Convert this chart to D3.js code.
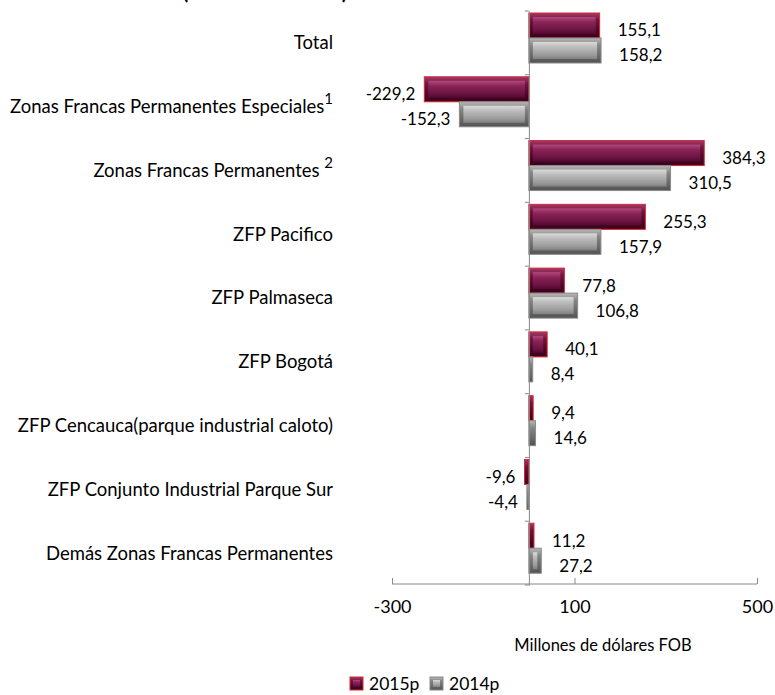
<!DOCTYPE html>
<html>
<head>
<meta charset="utf-8">
<script src="https://cdn.jsdelivr.net/npm/d3@7"></script>
<style>
  body { margin: 0; background: #fff; }
  text { font-family: Lato, "Open Sans", sans-serif; fill: #000; }
</style>
</head>
<body>
<div id="chart"></div>
<script>
let svgWidth = 775
let svgHeight = 695

// data
let categories = [
    "Total",
    "Zonas Francas Permanentes Especiales",
    "Zonas Francas Permanentes ",
    "ZFP Pacifico",
    "ZFP Palmaseca",
    "ZFP Bogotá",
    "ZFP Cencauca(parque industrial caloto)",
    "ZFP Conjunto Industrial Parque Sur",
    "Demás Zonas Francas Permanentes"
]
let notes = ["", "1", "2", "", "", "", "", "", ""]
let seriesNames = ["2015p", "2014p"]
let values2015 = [155.1, -229.2, 384.3, 255.3, 77.8, 40.1, 9.4, -9.6, 11.2]
let values2014 = [158.2, -152.3, 310.5, 157.9, 106.8, 8.4, 14.6, -4.4, 27.2]
let xTicks = [-300, 100, 500]
let axisTitle = "Millones de dólares FOB"

let locale = d3.formatLocale({ decimal: ",", thousands: ".", grouping: [3], currency: ["", ""], minus: "-" })
let fmt = locale.format(".1f")

let xScale = d3.scaleLinear()
    .domain([-300, 500])
    .range([392, 757])

let yScale = d3.scaleBand()
    .domain(categories)
    .range([11, 585])

let ySeries = d3.scaleBand()
    .domain(seriesNames)
    .range([2, 52])

let svg = d3.select("#chart")
    .append("svg")
    .attr("width", svgWidth)
    .attr("height", svgHeight)

// gradients for the bevelled bars
let defs = svg.append("defs")
let grads = {
    "g2015-base": ["#a33a6c", "#6e1240", "#4a0524", "#3a031c"],
    "g2015-face": ["#b04a7c", "#8a2458", "#6c1443", "#520830"],
    "g2014-base": ["#b8b8b8", "#848484", "#666666", "#525252"],
    "g2014-face": ["#dadada", "#bcbcbc", "#9c9c9c", "#808080"]
}
Object.keys(grads).forEach(function (id) {
    let lg = defs.append("linearGradient")
        .attr("id", id)
        .attr("x1", 0).attr("y1", 0).attr("x2", 0).attr("y2", 1)
    let offs = [0, 0.3, 0.75, 1]
    grads[id].forEach(function (c, i) {
        lg.append("stop").attr("offset", offs[i]).attr("stop-color", c)
    })
})

// partially hidden title at the very top (cut off in the original too)
svg.append("text")
    .attr("x", 265)
    .attr("y", -1)
    .attr("text-anchor", "middle")
    .attr("font-size", 22)
    .attr("font-weight", "bold")
    .attr("textLength", 165)
    .attr("lengthAdjust", "spacingAndGlyphs")
    .text("(enero-diciembre)")

// category labels
let catLabels = svg.append("g")
    .selectAll("text")
    .data(categories)
    .enter()
    .append("text")
    .attr("x", 333)
    .attr("y", function (d) { return yScale(d) + yScale.bandwidth() / 2 })
    .attr("dy", "0.35em")
    .attr("text-anchor", "end")
    .attr("font-size", 18.5)
    .text(function (d) { return d })

catLabels.each(function (d, i) {
    if (notes[i]) {
        d3.select(this).append("tspan")
            .attr("dy", "-0.6em")
            .attr("font-size", 15)
            .text(notes[i])
    }
})

// bars
let series = [
    { name: "2015p", values: values2015, base: "g2015-base", face: "g2015-face", stroke: "#d8282e" },
    { name: "2014p", values: values2014, base: "g2014-base", face: "g2014-face", stroke: "#8a8a8a" }
]

series.forEach(function (s) {
    let g = svg.append("g")
    let rows = categories.map(function (c, i) { return { cat: c, v: s.values[i] } })

    let bar = g.selectAll("g")
        .data(rows)
        .enter()
        .append("g")

    bar.append("rect")
        .attr("x", function (d) { return xScale(Math.min(0, d.v)) })
        .attr("y", function (d) { return yScale(d.cat) + ySeries(s.name) })
        .attr("width", function (d) { return Math.abs(xScale(d.v) - xScale(0)) })
        .attr("height", ySeries.bandwidth())
        .attr("fill", "url(#" + s.base + ")")
        .attr("stroke", s.stroke)
        .attr("stroke-width", 1)

    bar.append("rect")
        .attr("x", function (d) { return xScale(Math.min(0, d.v)) + 4 })
        .attr("y", function (d) { return yScale(d.cat) + ySeries(s.name) + 4 })
        .attr("width", function (d) { return Math.max(0, Math.abs(xScale(d.v) - xScale(0)) - 8) })
        .attr("height", ySeries.bandwidth() - 8)
        .attr("fill", "url(#" + s.face + ")")

    g.selectAll("text.val")
        .data(rows)
        .enter()
        .append("text")
        .attr("class", "val")
        .attr("x", function (d) { return d.v >= 0 ? xScale(d.v) + 18 : xScale(d.v) - 9 })
        .attr("y", function (d) { return yScale(d.cat) + ySeries(s.name) + ySeries.bandwidth() / 2 + 5 })
        .attr("dy", "0.35em")
        .attr("text-anchor", function (d) { return d.v >= 0 ? "start" : "end" })
        .attr("font-size", 17)
        .text(function (d) { return fmt(d.v) })
})

// vertical category axis at zero
let yAxis = d3.axisLeft(yScale)
    .tickSize(4)
    .tickFormat("")
    .tickSizeOuter(0)
let yAxisG = svg.append("g")
    .attr("transform", "translate(" + xScale(0) + ",0)")
    .call(yAxis)
// ticks at band boundaries instead of band centres
yAxisG.selectAll(".tick").remove()
yAxisG.selectAll("line.bound")
    .data(categories.concat(["end"]))
    .enter()
    .append("line")
    .attr("class", "bound")
    .attr("x1", -4).attr("x2", 0)
    .attr("y1", function (d, i) { return 11 + i * yScale.step() })
    .attr("y2", function (d, i) { return 11 + i * yScale.step() })
    .attr("stroke", "#888")
yAxisG.select(".domain").attr("stroke", "#888")

// horizontal value axis
let xAxis = d3.axisBottom(xScale)
    .tickValues(xTicks)
    .tickSize(0)
    .tickPadding(16)
    .tickFormat(function (d) { return d })
let xAxisG = svg.append("g")
    .attr("transform", "translate(0,584)")
    .call(xAxis)
xAxisG.select(".domain").remove()
xAxisG.append("line")
    .attr("x1", xScale(-300)).attr("x2", xScale(500))
    .attr("stroke", "#888")
xAxisG.selectAll(".tick").append("line")
    .attr("y1", 0).attr("y2", -6)
    .attr("stroke", "#888")
xAxisG.selectAll(".tick text")
    .attr("font-family", "Lato, sans-serif")
    .attr("font-size", 18)
    .attr("fill", "#000")

// axis title
svg.append("text")
    .attr("x", 603)
    .attr("y", 645)
    .attr("dy", "0.35em")
    .attr("text-anchor", "middle")
    .attr("font-size", 16.5)
    .text(axisTitle)

// legend
let legend = svg.append("g")
    .attr("transform", "translate(350,677)")
    .selectAll("g")
    .data(series)
    .enter()
    .append("g")
    .attr("transform", function (d, i) { return "translate(" + (i * 80) + ",0)" })

legend.append("rect")
    .attr("width", 13)
    .attr("height", 13)
    .attr("fill", function (d) { return "url(#" + d.base + ")" })
    .attr("stroke", function (d) { return d.stroke })
legend.append("rect")
    .attr("x", 3).attr("y", 3)
    .attr("width", 7)
    .attr("height", 7)
    .attr("fill", function (d) { return "url(#" + d.face + ")" })
legend.append("text")
    .attr("x", 19)
    .attr("y", 7)
    .attr("dy", "0.35em")
    .attr("font-size", 17.5)
    .text(function (d) { return d.name })
</script>
</body>
</html>
